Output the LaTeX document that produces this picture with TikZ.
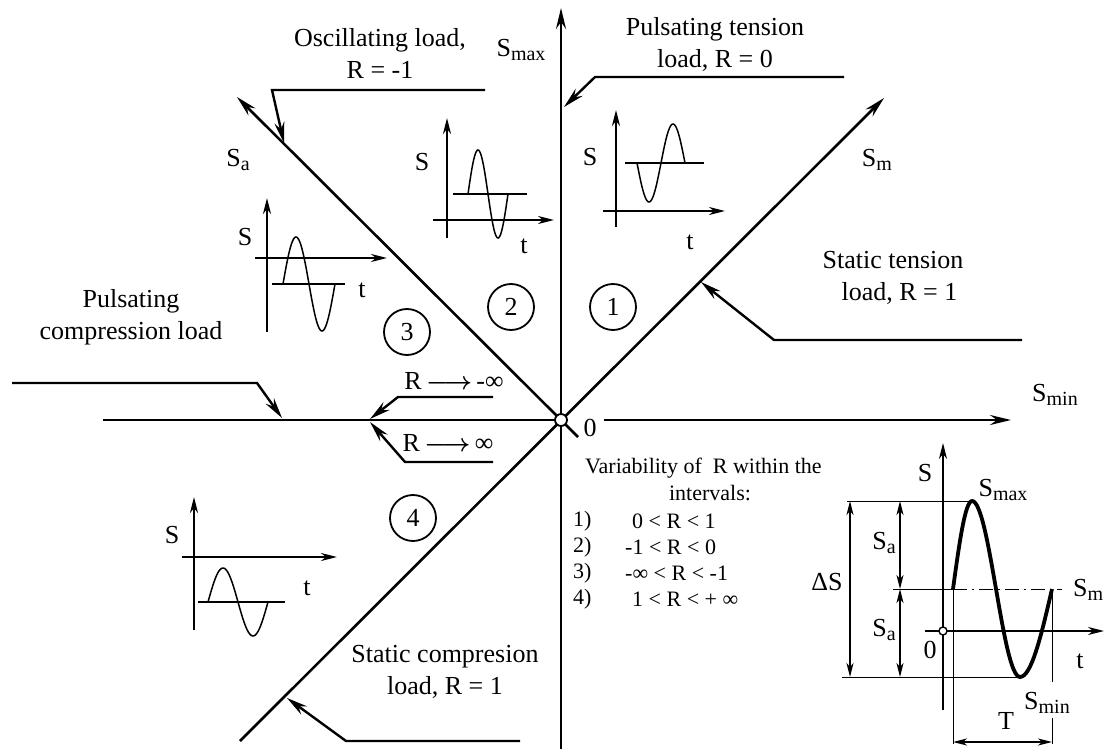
\documentclass[tikz,border=0pt]{standalone}
\usepackage{fontspec}
\setmainfont{Liberation Serif}
\usetikzlibrary{arrows.meta}
\newcommand\mysub[1]{\raisebox{-0.35ex}{\fontsize{20}{20}\selectfont #1}}
\newcommand\myarr{{\boldmath$\longrightarrow$}}
\begin{document}
\begin{tikzpicture}[x=1pt,y=-1pt,
  bigtip/.style={-{Stealth[length=21pt,width=10pt,inset=7pt]}},
  ax/.style={line width=2.6pt,bigtip},
  call/.style={line width=2.4pt,bigtip},
  miniax/.style={line width=2.4pt,-{Stealth[length=16pt,width=8pt,inset=5pt]}},
  mean/.style={line width=1.8pt},
  wave/.style={line width=1.5pt},
  thin/.style={line width=1pt},
  dim/.style={line width=1.8pt,{Stealth[length=14pt,width=7pt,inset=4pt]}-{Stealth[length=14pt,width=7pt,inset=4pt]}},
  lbl/.style={font=\fontsize{26}{32}\selectfont,inner sep=0pt,align=center},
  leg/.style={font=\fontsize{22}{26}\selectfont,inner sep=0pt,anchor=west},
  num/.style={circle,draw,line width=1.8pt,minimum size=46pt,inner sep=0pt,font=\fontsize{26}{30}\selectfont}
]
\useasboundingbox (0,0) rectangle (1104,749);
\fill[white] (0,0) rectangle (1104,749);

% ---------- main axes ----------
\coordinate (O) at (561,420);
\coordinate (vb) at (561,749);
\coordinate (vt) at (561,8);
\coordinate (hl) at (103,420);
\coordinate (hr0) at (604,420);
\coordinate (hr) at (1011,420);
\coordinate (mb) at (240,741);
\coordinate (mt) at (884,98);
\coordinate (ab) at (578,437);
\coordinate (at) at (237,97);
\draw[ax] (vb) -- (vt);
\draw[line width=2.6pt] (hl) -- (O);
\draw[ax] (hr0) -- (hr);
\draw[ax] (mb) -- (mt);
\draw[ax] (ab) -- (at);
\node[circle,draw,fill=white,line width=1.8pt,minimum size=12pt,inner sep=0pt] (oc) at (O) {};

\node[lbl] (smax) at (521,50) {S\mysub{max}};
\node[lbl] (sa) at (238,160) {S\mysub{a}};
\node[lbl] (sm) at (877,160) {S\mysub{m}};
\node[lbl] (smin) at (1055,395) {S\mysub{min}};
\node[lbl] (zero) at (590,428) {0};

% ---------- callouts ----------
\node[lbl] (osc) at (380,53) {Oscillating load,\\R = -1};
\coordinate (c1a) at (485,90); \coordinate (c1b) at (272,90); \coordinate (c1c) at (284,143);
\draw[call] (c1a) -- (c1b) -- (c1c);

\node[lbl] (pten) at (715,44) {Pulsating tension\\load, R = 0};
\coordinate (c2a) at (844,77); \coordinate (c2b) at (595,77); \coordinate (c2c) at (564,107);
\draw[call] (c2a) -- (c2b) -- (c2c);

\node[lbl] (sten) at (893,278) {Static tension\\\ \ load, R = 1};
\coordinate (c3a) at (1022,340); \coordinate (c3b) at (774,340); \coordinate (c3c) at (701,282);
\draw[call] (c3a) -- (c3b) -- (c3c);

\node[lbl] (pcomp) at (131,317) {Pulsating\\compression load};
\coordinate (c4a) at (12,383); \coordinate (c4b) at (257,383); \coordinate (c4c) at (282,418);
\draw[call] (c4a) -- (c4b) -- (c4c);

\node[lbl] (rmi) at (454,381) {R\,\myarr\,-∞};
\coordinate (c5a) at (493,397); \coordinate (c5b) at (398,397); \coordinate (c5c) at (370,419);
\draw[call] (c5a) -- (c5b) -- (c5c);

\node[lbl] (rpi) at (448,443) {R\,\myarr\,∞};
\coordinate (c6a) at (493,462); \coordinate (c6b) at (405,462); \coordinate (c6c) at (370,422);
\draw[call] (c6a) -- (c6b) -- (c6c);

\node[lbl] (scomp) at (445,672) {Static compresion\\load, R = 1};
\coordinate (c7a) at (520,741); \coordinate (c7b) at (346,741); \coordinate (c7c) at (287,698);
\draw[call] (c7a) -- (c7b) -- (c7c);

% ---------- region numbers ----------
\node[num] (n1) at (613,307) {1};
\node[num] (n2) at (511,307) {2};
\node[num] (n3) at (407,332) {3};
\node[num] (n4) at (413,518) {4};

% ---------- mini graph A (region 2) ----------
\coordinate (Aa) at (447,238); \coordinate (Ab) at (447,118);
\coordinate (Ac) at (433,220); \coordinate (Ad) at (554,220);
\draw[miniax] (Aa) -- (Ab);
\draw[miniax] (Ac) -- (Ad);
\draw[mean] (453,194) -- (527,194);
\draw[wave] plot[domain=0:360,samples=50] ({468+\x/360*40},{194-44*sin(\x)});
\node[lbl] (AS) at (422,162) {S};
\node[lbl] (At) at (524,246) {t};

% ---------- mini graph B (region 1) ----------
\coordinate (Ba) at (616,227); \coordinate (Bb) at (616,110);
\coordinate (Bc) at (603,211); \coordinate (Bd) at (725,211);
\draw[miniax] (Ba) -- (Bb);
\draw[miniax] (Bc) -- (Bd);
\draw[mean] (625,163) -- (704,163);
\draw[wave] plot[domain=0:360,samples=50] ({637+\x/360*48},{163+39*sin(\x)});
\node[lbl] (BS) at (590,157) {S};
\node[lbl] (Bt) at (690,242) {t};

% ---------- mini graph C (region 3) ----------
\coordinate (Ca) at (267,332); \coordinate (Cb) at (267,198);
\coordinate (Cc) at (255,258); \coordinate (Cd) at (387,258);
\draw[miniax] (Ca) -- (Cb);
\draw[miniax] (Cc) -- (Cd);
\draw[mean] (272,284) -- (345,284);
\draw[wave] plot[domain=0:360,samples=50] ({283+\x/360*52},{284-47*sin(\x)});
\node[lbl] (CS) at (245,237) {S};
\node[lbl] (Ct) at (362,290) {t};

% ---------- mini graph D (region 4) ----------
\coordinate (Da) at (194,630); \coordinate (Db) at (194,497);
\coordinate (Dc) at (182,557); \coordinate (Dd) at (337,557);
\draw[miniax] (Da) -- (Db);
\draw[miniax] (Dc) -- (Dd);
\draw[mean] (198,602) -- (285,602);
\draw[wave] plot[domain=0:360,samples=50] ({208+\x/360*60},{602-34*sin(\x)});
\node[lbl] (DS) at (172,535) {S};
\node[lbl] (Dt) at (307,588) {t};

% ---------- legend ----------
\node[leg] (lg0) at (585,468) {Variability of\ \ R within the};
\node[leg,anchor=center] (lg1) at (710,493) {intervals:};
\node[leg] (l1a) at (573,521) {1)};
\node[leg] (l1b) at (632,521) {0 < R < 1};
\node[leg] (l2a) at (573,547) {2)};
\node[leg] (l2b) at (625,547) {-1 < R < 0};
\node[leg] (l3a) at (573,573) {3)};
\node[leg] (l3b) at (625,573) {-∞ < R < -1};
\node[leg] (l4a) at (573,599) {4)};
\node[leg] (l4b) at (632,599) {1 < R < + ∞};

% ---------- detailed cycle graph ----------
\coordinate (Sa0) at (943,710); \coordinate (Sa1) at (943,443);
\coordinate (ta0) at (925,631); \coordinate (ta1) at (1104,631);
\draw[line width=2pt,-{Stealth[length=16pt,width=8pt,inset=5pt]}] (Sa0) -- (Sa1);
\draw[line width=2pt,-{Stealth[length=16pt,width=8pt,inset=5pt]}] (ta0) -- (ta1);
\node[circle,draw,fill=white,line width=1.4pt,minimum size=8pt,inner sep=0pt] (o2) at (943,631) {};

\draw[thin] (847,501) -- (972,501);
\draw[thin] (893,589) -- (953,589);
\draw[thin,dash pattern=on 14pt off 5pt on 2pt off 5pt] (953,589) -- (1062,589);
\draw[thin] (842,677) -- (1020,677);
\draw[thin] (953,589) -- (953,744);
\draw[thin] (1052,589) -- (1052,682);
\draw[thin] (1052,718) -- (1052,744);
\draw[line width=3.8pt] (953,589) sin (972,501) cos (996,589) sin (1020,677) cos (1052,589);

\coordinate (T0) at (953,742); \coordinate (T1) at (1052,742);
\draw[dim] (T0) -- (T1);
\coordinate (D0) at (850,501); \coordinate (D1) at (850,677);
\draw[dim] (D0) -- (D1);
\coordinate (A0) at (900,501); \coordinate (A1) at (900,589); \coordinate (A2) at (900,677);
\draw[dim] (A0) -- (A1);
\draw[dim] (A1) -- (A2);

\node[lbl] (dS) at (925,473) {S};
\node[lbl] (dSmax) at (1003,490) {S\mysub{max}};
\node[lbl,anchor=west] (dSm) at (1073,590) {S\mysub{m}};
\node[lbl] (dSmin) at (1047,703) {S\mysub{min}};
\node[lbl] (dT) at (1006,721) {T};
\node[lbl] (dDS) at (827,582) {ΔS};
\node[lbl] (dSa1) at (884,543) {S\mysub{a}};
\node[lbl] (dSa2) at (884,630) {S\mysub{a}};
\node[lbl] (d0) at (930,650) {0};
\node[lbl] (dt) at (1080,661) {t};
\end{tikzpicture}
\end{document}
